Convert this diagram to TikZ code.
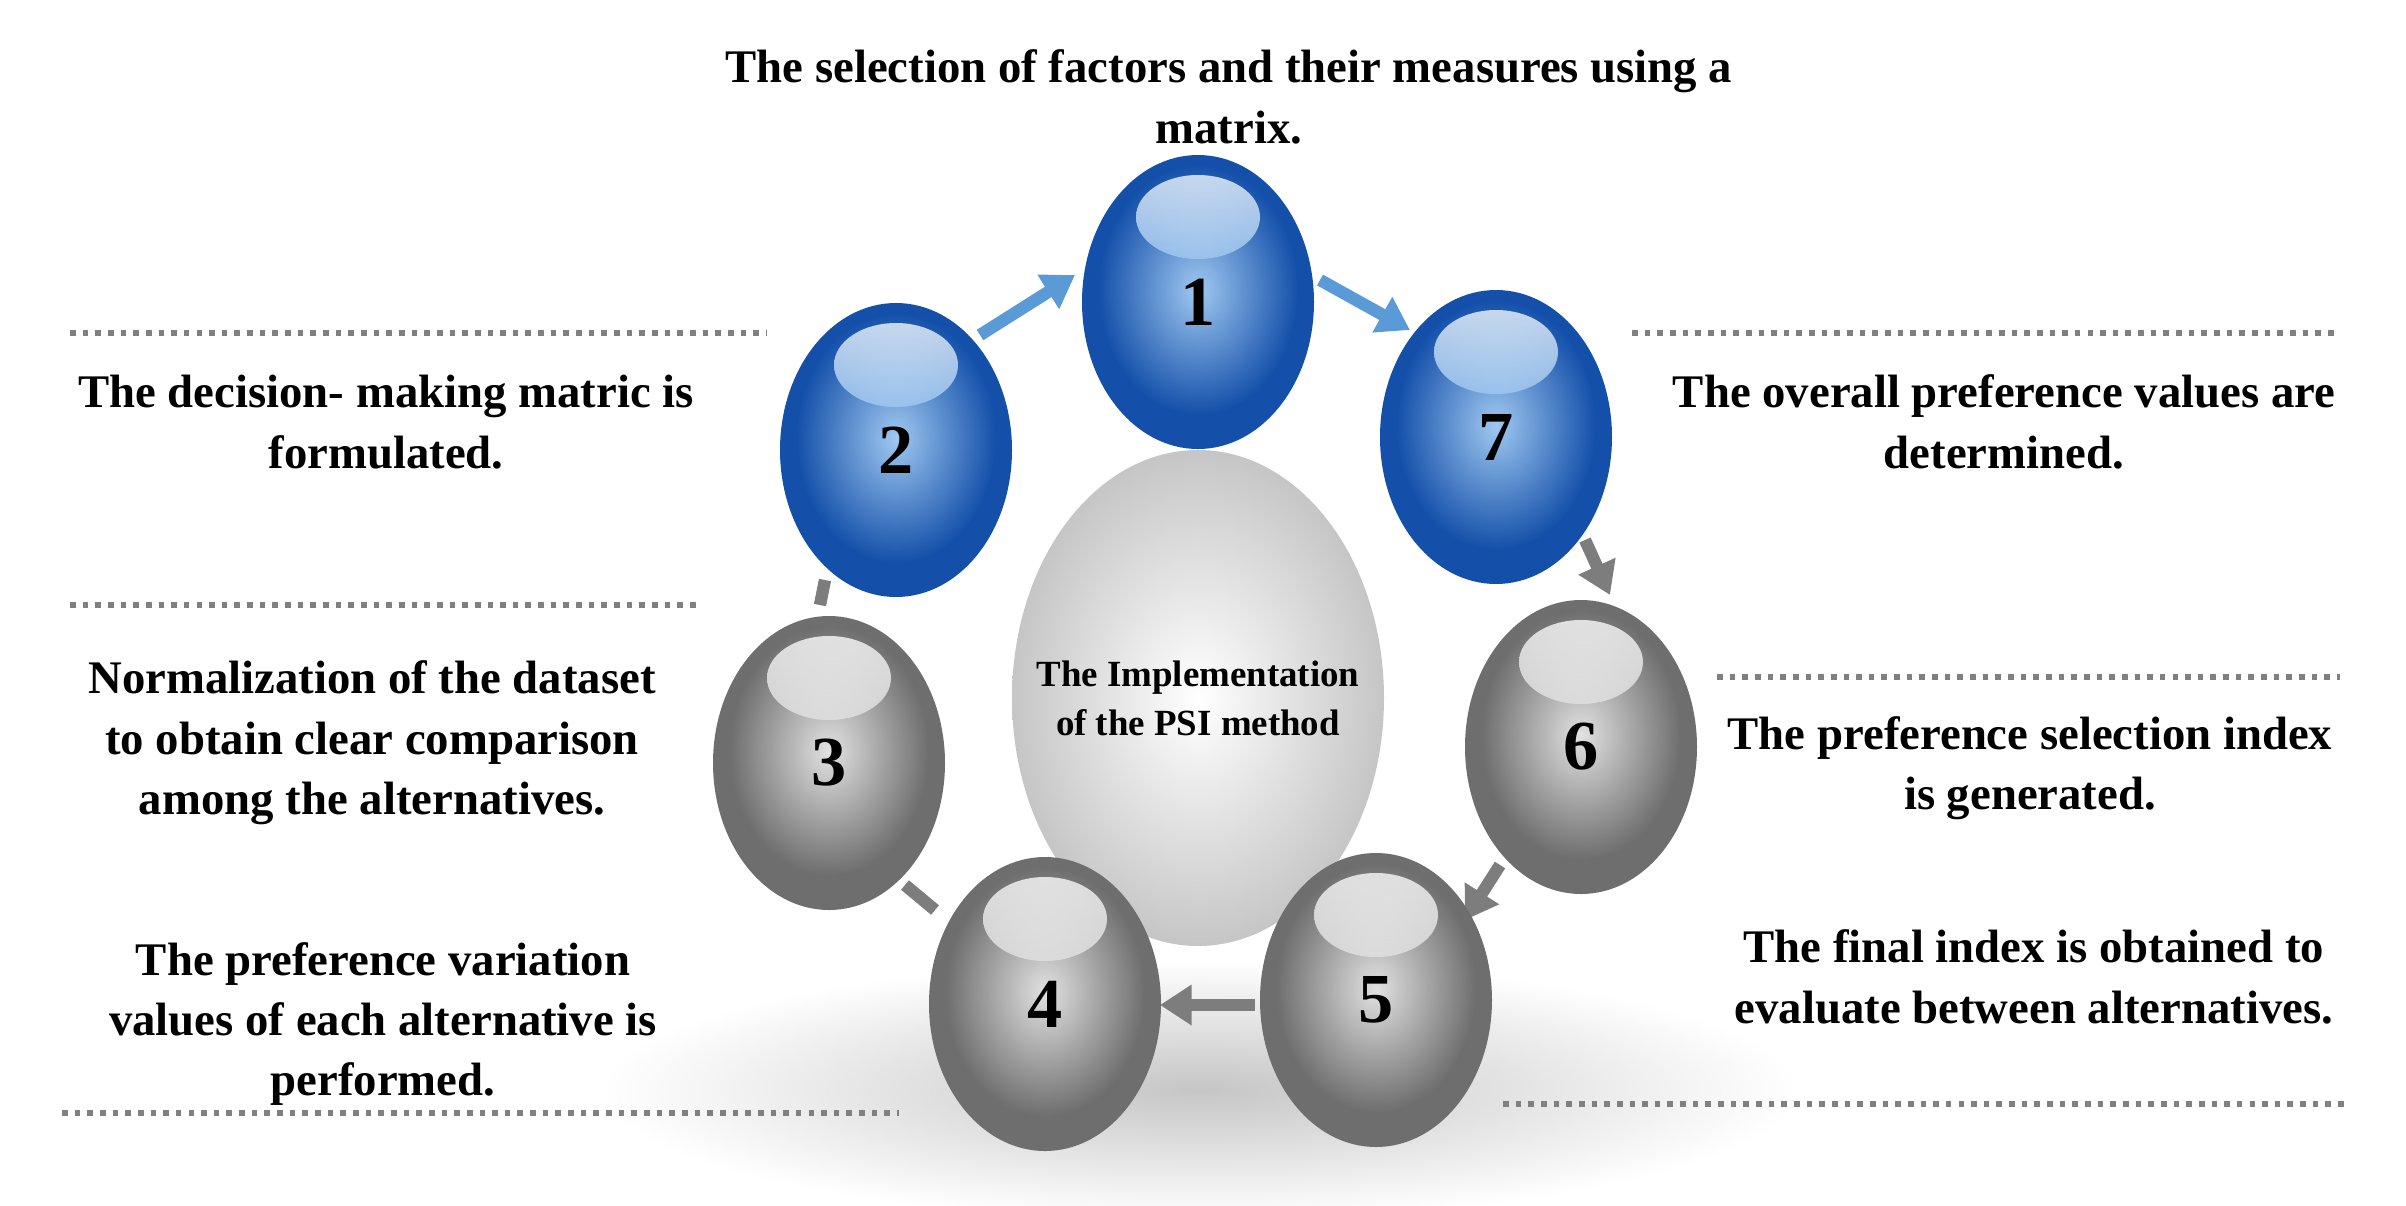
\documentclass[tikz,border=0pt]{standalone}
\usepackage{fontspec}
\setmainfont{Liberation Serif}
\usetikzlibrary{arrows.meta,shapes.geometric}
\definecolor{bdark}{RGB}{20,80,170}
\definecolor{blight}{RGB}{160,200,240}
\definecolor{gdark}{RGB}{110,110,110}
\definecolor{glight}{RGB}{225,225,225}
\definecolor{arrb}{RGB}{90,155,215}
\definecolor{arrg}{RGB}{125,125,125}
\tikzset{
 txt/.style={font=\fontsize{13.3}{17.2}\selectfont\bfseries, align=center},
 num/.style={font=\fontsize{20}{24}\selectfont\bfseries},
 dots/.style={dotted, line width=1.6pt, gray},
 arb/.style={-{Triangle[length=9pt,width=11pt]}, line width=3.5pt, arrb},
 arg/.style={-{Triangle[length=9pt,width=11pt]}, line width=3.5pt, arrg},
 lng/.style={line width=3.5pt, arrg}
}
\newcommand{\ball}[5]{% name, x, y, dark, light
 \fill[#4] (#2,#3) ellipse (1.16 and 1.47);
 \shade[inner color=#5, outer color=#4] (#2,#3-0.12) ellipse (1.0 and 1.25);
 \shade[top color=white!85!#5, bottom color=#5, opacity=0.8] (#2,#3-0.85) ellipse (0.62 and 0.42);
 \node[num] (#1) at (#2,#3) {};
}
\begin{document}
\begin{tikzpicture}[x=1cm,y=-1cm]
\useasboundingbox (0,0) rectangle (24.06,12.06);
% shadow
\shade[inner color=gray!45, outer color=white] (12.0,10.9) ellipse (6.0 and 1.3);
% center
\shade[inner color=white, outer color=gray!45] (11.98,6.98) ellipse (1.86 and 2.48);
\node[font=\fontsize{10.5}{14}\selectfont\bfseries, align=center] (c) at (11.98,6.98) {The Implementation\\of the PSI method};
% connectors
\coordinate (a1s) at (9.8,3.35); \coordinate (a1e) at (10.75,2.75);
\coordinate (a2s) at (13.2,2.8); \coordinate (a2e) at (14.1,3.3);
\coordinate (a3s) at (15.85,5.4); \coordinate (a3e) at (16.1,5.95);
\coordinate (a4s) at (15.0,8.65); \coordinate (a4e) at (14.65,9.2);
\coordinate (a5s) at (12.55,10.05); \coordinate (a5e) at (11.6,10.05);
\coordinate (l1s) at (9.05,8.85); \coordinate (l1e) at (9.35,9.1);
\coordinate (l2s) at (8.25,5.8); \coordinate (l2e) at (8.2,6.05);
\draw[arb] (a1s) -- (a1e);
\draw[arb] (a2s) -- (a2e);
\draw[arg] (a3s) -- (a3e);
\draw[arg] (a4s) -- (a4e);
\draw[arg] (a5s) -- (a5e);
\draw[lng] (l1s) -- (l1e);
\draw[lng] (l2s) -- (l2e);
% balls
\ball{b3}{8.29}{7.63}{gdark}{glight}
\ball{b6}{15.81}{7.47}{gdark}{glight}
\ball{b4}{10.45}{10.04}{gdark}{glight}
\ball{b5}{13.76}{10.0}{gdark}{glight}
\ball{b2}{8.96}{4.5}{bdark}{blight}
\ball{b7}{14.96}{4.37}{bdark}{blight}
\ball{b1}{11.98}{3.02}{bdark}{blight}
\node[num] at (b1) {1};\node[num] at (b2) {2};\node[num] at (b3) {3};
\node[num] at (b4) {4};\node[num] at (b5) {5};\node[num] at (b6) {6};
\node[num] at (b7) {7};
% dotted rules
\coordinate (d1a) at (0.7,3.33); \coordinate (d1b) at (7.67,3.33);
\coordinate (d2a) at (16.32,3.33); \coordinate (d2b) at (23.4,3.33);
\coordinate (d3a) at (0.7,6.05); \coordinate (d3b) at (6.98,6.05);
\coordinate (d4a) at (17.17,6.77); \coordinate (d4b) at (23.4,6.77);
\coordinate (d5a) at (0.62,11.13); \coordinate (d5b) at (8.99,11.13);
\coordinate (d6a) at (15.03,11.04); \coordinate (d6b) at (23.48,11.04);
\draw[dots] (d1a) -- (d1b); \draw[dots] (d2a) -- (d2b);
\draw[dots] (d3a) -- (d3b); \draw[dots] (d4a) -- (d4b);
\draw[dots] (d5a) -- (d5b); \draw[dots] (d6a) -- (d6b);
% texts
\node[txt] (t1) at (12.29,0.97) {The selection of factors and their measures using a\\matrix.};
\node[txt] (t2) at (3.86,4.22) {The decision- making matric is\\formulated.};
\node[txt] (t7) at (20.04,4.22) {The overall preference values are\\determined.};
\node[txt] (t3) at (3.72,7.43) {Normalization of the dataset\\to obtain clear comparison\\among the alternatives.};
\node[txt] (t6) at (20.3,7.68) {The preference selection index\\is generated.};
\node[txt] (t5) at (20.34,9.77) {The final index is obtained to\\evaluate between alternatives.};
\node[txt] (t4) at (3.83,10.24) {The preference variation\\values of each alternative is\\performed.};
\end{tikzpicture}
\end{document}
